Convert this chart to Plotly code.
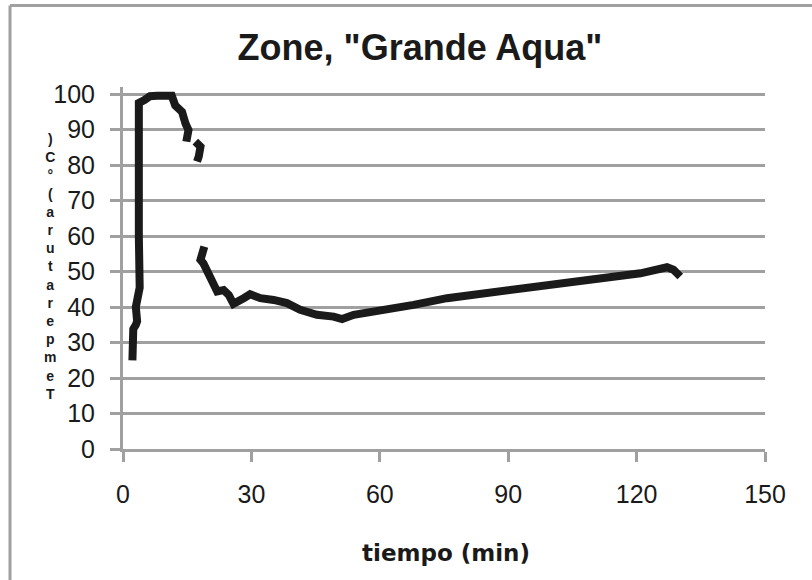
import plotly.graph_objects as go

# ---- data ----
time_min = [
    2.2, 2.1, 2.4, 3.0, 3.3, 3.0, 3.5, 3.9, 3.7, 3.7, 5.0, 6.3, 8.0, 10.0, 11.4,
    12.2, 13.8, 14.6, 15.3, 14.8, None,
    16.9, 18.1, 17.7, 17.3, None,
    19.0, 18.1, 18.8, 19.8, 20.8, 22.0, 23.5, 24.7, 25.8, 27.0, 28.2, 29.7,
    32.1, 35.2, 38.3, 41.4, 45.3, 49.2, 51.2, 53.9, 58.6, 63.2, 67.9, 75.7,
    85.0, 94.4, 103.7, 113.1, 120.9, 127.1, 128.6, 130.2,
]
temperature_c = [
    25.0, 30.0, 33.8, 35.0, 36.0, 40.0, 43.5, 45.5, 60.0, 97.5, 98.3, 99.4, 99.5, 99.5, 99.5,
    96.8, 95.0, 91.7, 89.9, 86.6, None,
    86.6, 85.2, 82.4, 81.0, None,
    57.0, 53.3, 52.3, 49.5, 46.7, 44.4, 44.8, 43.4, 40.9, 41.5, 42.5, 43.6,
    42.5, 42.0, 41.1, 39.2, 37.8, 37.3, 36.6, 37.8, 38.7, 39.2, 40.6, 42.5,
    43.9, 45.3, 46.7, 48.1, 49.5, 51.2, 50.5, 48.6,
]

title_text = 'Zone, "Grande Aqua"'
x_title = "tiempo (min)"
y_title = "Temperatura (°C)"
x_ticks = [0, 30, 60, 90, 120, 150]
y_ticks = [0, 10, 20, 30, 40, 50, 60, 70, 80, 90, 100]

# ---- layout geometry (pixels) ----
W, H = 812, 580
ML, MR, MT, MB = 123, 47, 87, 131
PW, PH = W - ML - MR, H - MT - MB
GRAY = "#a0a0a0"
INK = "#1a1a1a"


def px_to_paper_x(px):
    return (px - ML) / PW


def px_to_paper_y(py):
    return (H - MB - py) / PH


fig = go.Figure()
fig.add_trace(go.Scatter(
    x=time_min, y=temperature_c, mode="lines",
    line=dict(color=INK, width=8),
    connectgaps=False, showlegend=False, hoverinfo="skip",
))

tick_font = dict(family="Liberation Sans", size=25, color=INK)

fig.update_layout(
    width=W, height=H,
    margin=dict(l=ML, r=MR, t=MT, b=MB, autoexpand=False),
    paper_bgcolor="white", plot_bgcolor="white",
    title=dict(
        text=title_text, x=px_to_paper_x(420), xref="paper", xanchor="center",
        y=1 - 47 / H, yref="container", yanchor="middle",
        font=dict(family="Liberation Sans", size=36, color=INK, weight="bold"),
    ),
    xaxis=dict(
        range=[0, 150], tickvals=x_ticks, showgrid=False, zeroline=False,
        showline=True, linecolor=GRAY, linewidth=3,
        ticks="outside", ticklen=10, tickwidth=3, tickcolor=GRAY,
        tickfont=tick_font, ticklabelstandoff=11,
    ),
    yaxis=dict(
        range=[0, 102], tickvals=y_ticks, showgrid=True, gridcolor=GRAY, gridwidth=3,
        zeroline=False, showline=True, linecolor=GRAY, linewidth=3,
        ticks="outside", ticklen=10, tickwidth=3, tickcolor=GRAY,
        tickfont=tick_font, ticklabelstandoff=10,
    ),
)

# outer frame (top and left edges visible)
fig.add_shape(type="line", xref="paper", yref="paper",
              x0=px_to_paper_x(10), x1=px_to_paper_x(820),
              y0=px_to_paper_y(5.5), y1=px_to_paper_y(5.5),
              line=dict(color=GRAY, width=3))
fig.add_shape(type="line", xref="paper", yref="paper",
              x0=px_to_paper_x(10), x1=px_to_paper_x(10),
              y0=px_to_paper_y(5.5), y1=px_to_paper_y(590),
              line=dict(color=GRAY, width=3))

# x-axis title
fig.add_annotation(
    text=x_title, xref="paper", yref="paper",
    x=px_to_paper_x(446), y=px_to_paper_y(553), xanchor="center", yanchor="middle",
    showarrow=False, font=dict(family="DejaVu Sans", size=23, color=INK, weight="bold"),
)

# y-axis title: characters stacked bottom-to-top, upright, as one text block
chars = [c for c in y_title if c != " "]
stacked = "<br>".join(reversed(chars))
fig.add_annotation(
    text=stacked, xref="paper", yref="paper",
    x=px_to_paper_x(50), y=px_to_paper_y(266), xanchor="center", yanchor="middle",
    showarrow=False, align="center",
    font=dict(family="Liberation Sans", size=14, color=INK, weight="bold"),
)

fig.write_html("out.html")
